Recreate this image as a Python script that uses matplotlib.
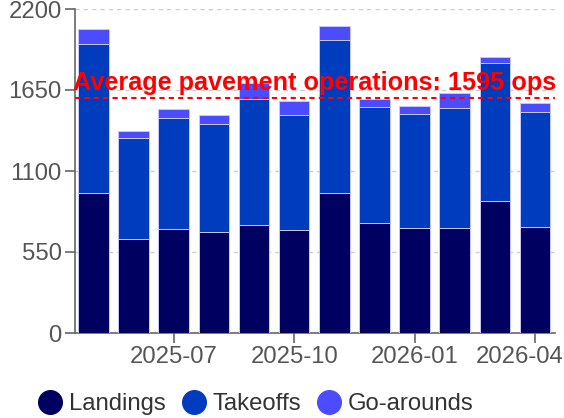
import numpy as np
import matplotlib
matplotlib.use('Agg')
import matplotlib.pyplot as plt
from matplotlib.lines import Line2D
from matplotlib.transforms import ScaledTranslation

months = ['2025-05', '2025-06', '2025-07', '2025-08', '2025-09', '2025-10',
          '2025-11', '2025-12', '2026-01', '2026-02', '2026-03', '2026-04']
landings = [949, 636, 706, 684, 731, 700, 953, 745, 711, 715, 896, 722]
takeoffs = [1015, 686, 756, 733, 856, 782, 1039, 792, 774, 813, 935, 781]
go_arounds = [98, 50, 57, 65, 108, 91, 93, 52, 54, 100, 45, 61]
avg_pavement = 1595
yticks = [0, 550, 1100, 1650, 2200]

plt.rcParams['font.family'] = ['Liberation Sans', 'DejaVu Sans']

fig = plt.figure(figsize=(5.64, 4.18), dpi=100)
ax = fig.add_axes([75/564, 1-333/418, 480/564, 324/418])

x = np.arange(len(months))
c_land, c_take, c_go = '#000060', '#003cbe', '#4b4bff'
edge = '#c8c8ff'
w = 0.76
ax.bar(x, landings, w, color=c_land, edgecolor=edge, linewidth=0.7, zorder=3)
ax.bar(x, takeoffs, w, bottom=landings, color=c_take, edgecolor=edge, linewidth=0.7, zorder=3)
bot2 = np.array(landings) + np.array(takeoffs)
ax.bar(x, go_arounds, w, bottom=bot2, color=c_go, edgecolor=edge, linewidth=0.7, zorder=3)

ax.set_xlim(-0.46, 11.5)
ax.set_ylim(0, 2200)
ax.set_yticks(yticks)
ax.set_yticklabels([str(t) for t in yticks])
ax.set_xticks(x[2::3])
ax.set_xticklabels(months[2::3])
ax.yaxis.grid(True, color='#cccccc', linestyle=(0, (3, 3)), linewidth=1.0, zorder=0)

for s in ['top', 'right']:
    ax.spines[s].set_visible(False)
for s in ['left', 'bottom']:
    ax.spines[s].set_color('#666666')
    ax.spines[s].set_linewidth(1.2)
ax.tick_params(axis='both', length=7.5, width=1.2, color='#666666',
               labelcolor='#555555', labelsize=17.2, pad=2)

# last label is pushed left so it stays inside the canvas
lab = ax.get_xticklabels()[-1]
lab.set_transform(lab.get_transform() + ScaledTranslation(-0.15, 0, fig.dpi_scale_trans))

ax.axhline(avg_pavement, color='#ff0000', linestyle=(0, (2.5, 2)), linewidth=1.5, zorder=4)
ax.text(-0.004, 1650, f'Average pavement operations: {avg_pavement} ops',
        transform=ax.get_yaxis_transform(), color='#ff0000', fontsize=18.2,
        fontweight='bold', va='baseline', ha='left', zorder=5)

handles = [Line2D([], [], marker='o', linestyle='', markersize=17, color=c)
           for c in (c_land, c_take, c_go)]
fig.legend(handles, ['Landings', 'Takeoffs', 'Go-arounds'], loc='center',
           bbox_to_anchor=(255.5/564, 1-404/418), ncol=3, frameon=False,
           fontsize=17.2, labelcolor='#333333', handletextpad=0.25,
           columnspacing=0.6, handlelength=1.1, borderpad=0.2)

fig.savefig('out.png', dpi=100)
